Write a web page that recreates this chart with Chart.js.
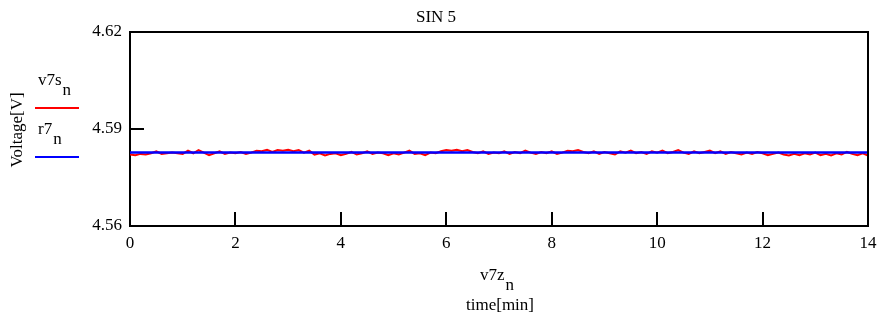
<!DOCTYPE html>
<html lang="en">
<head>
<meta charset="UTF-8">
<title>SIN 5</title>
<script src="https://cdn.jsdelivr.net/npm/chart.js"></script>
<style>
  html, body { margin: 0; padding: 0; background: #fff; }
  #wrap { width: 884px; height: 320px; position: relative; }
</style>
</head>
<body>
<div id="wrap"><canvas id="myChart" width="884" height="320"></canvas></div>
<script>
// temps de mesure (min)
const v7z = [
  0, 0.1, 0.2, 0.3, 0.4, 0.5, 0.6, 0.7, 0.8, 0.9,
  1, 1.1, 1.2, 1.3, 1.4, 1.5, 1.6, 1.7, 1.8, 1.9,
  2, 2.1, 2.2, 2.3, 2.4, 2.5, 2.6, 2.7, 2.8, 2.9,
  3, 3.1, 3.2, 3.3, 3.4, 3.5, 3.6, 3.7, 3.8, 3.9,
  4, 4.1, 4.2, 4.3, 4.4, 4.5, 4.6, 4.7, 4.8, 4.9,
  5, 5.1, 5.2, 5.3, 5.4, 5.5, 5.6, 5.7, 5.8, 5.9,
  6, 6.1, 6.2, 6.3, 6.4, 6.5, 6.6, 6.7, 6.8, 6.9,
  7, 7.1, 7.2, 7.3, 7.4, 7.5, 7.6, 7.7, 7.8, 7.9,
  8, 8.1, 8.2, 8.3, 8.4, 8.5, 8.6, 8.7, 8.8, 8.9,
  9, 9.1, 9.2, 9.3, 9.4, 9.5, 9.6, 9.7, 9.8, 9.9,
  10, 10.1, 10.2, 10.3, 10.4, 10.5, 10.6, 10.7, 10.8, 10.9,
  11, 11.1, 11.2, 11.3, 11.4, 11.5, 11.6, 11.7, 11.8, 11.9,
  12, 12.1, 12.2, 12.3, 12.4, 12.5, 12.6, 12.7, 12.8, 12.9,
  13, 13.1, 13.2, 13.3, 13.4, 13.5, 13.6, 13.7, 13.8, 13.9,
  14
];

// tension mesurée v7s (V)
const v7s = [
  4.5821, 4.5819, 4.5823, 4.5821, 4.5825, 4.5831, 4.5823, 4.5825, 4.5827, 4.5825,
  4.5823, 4.5833, 4.5825, 4.5835, 4.5827, 4.5819, 4.5825, 4.5831, 4.5823, 4.5827,
  4.5825, 4.5829, 4.5823, 4.5827, 4.5833, 4.5831, 4.5836, 4.5829, 4.5835, 4.5833,
  4.5836, 4.5831, 4.5835, 4.5827, 4.5833, 4.5821, 4.5825, 4.5818, 4.5823, 4.5825,
  4.5819, 4.5823, 4.5829, 4.5821, 4.5825, 4.5831, 4.5823, 4.5827, 4.5825, 4.5819,
  4.5825, 4.5821, 4.5827, 4.5833, 4.5823, 4.5825, 4.5819, 4.5827, 4.5825, 4.5831,
  4.5835, 4.5833, 4.5836, 4.5831, 4.5835, 4.5829, 4.5825, 4.5831, 4.5823, 4.5827,
  4.5825, 4.5831, 4.5823, 4.5829, 4.5825, 4.5833, 4.5827, 4.5823, 4.5829, 4.5825,
  4.5831, 4.5823, 4.5827, 4.5833, 4.5831, 4.5835, 4.5829, 4.5825, 4.5831, 4.5823,
  4.5829, 4.5825, 4.5821, 4.5831, 4.5827, 4.5833, 4.5825, 4.5829, 4.5823, 4.5831,
  4.5827, 4.5833, 4.5825, 4.5829, 4.5835, 4.5827, 4.5823, 4.5831, 4.5825, 4.5829,
  4.5833, 4.5825, 4.5831, 4.5823, 4.5829, 4.5825, 4.5821, 4.5827, 4.5823, 4.5829,
  4.5825, 4.5819, 4.5823, 4.5827, 4.5821, 4.5818, 4.5823, 4.5819, 4.5825, 4.5821,
  4.5827, 4.5819, 4.5823, 4.5818, 4.5825, 4.5821, 4.5829, 4.5823, 4.5819, 4.5825,
  4.5818
];

// référence r7 (V)
const r7Time = [0, 14];
const r7 = [4.5827, 4.5827];

// graduations
const xTicks = [0, 2, 4, 6, 8, 10, 12, 14];
const yTicks = [4.56, 4.59, 4.62];

const FONT = '"Liberation Serif", "Times New Roman", serif';

// texte avec indice (ex: v7s_n)
function subText(ctx, base, sub, x, y, align) {
  ctx.font = '17px ' + FONT;
  const wb = ctx.measureText(base).width;
  const ws = ctx.measureText(sub).width;
  let x0 = x;
  if (align === 'center') x0 = x - (wb + ws + 1) / 2;
  ctx.textAlign = 'left';
  ctx.textBaseline = 'middle';
  ctx.fillText(base, x0, y);
  ctx.fillText(sub, x0 + wb + 1, y + 10);
}

const decor = {
  id: 'decor',
  afterDraw(chart) {
    const ctx = chart.ctx;
    const a = chart.chartArea;
    const xs = chart.scales.x, ys = chart.scales.y;
    ctx.save();
    ctx.strokeStyle = '#000';
    ctx.lineWidth = 2;
    // cadre haut et droite
    ctx.beginPath();
    ctx.moveTo(a.left, a.top);
    ctx.lineTo(a.right, a.top);
    ctx.lineTo(a.right, a.bottom);
    ctx.stroke();
    // graduations intérieures
    ctx.beginPath();
    xTicks.forEach(t => {
      const px = Math.round(xs.getPixelForValue(t));
      ctx.moveTo(px, a.bottom);
      ctx.lineTo(px, a.bottom - 14);
    });
    yTicks.forEach(t => {
      const py = Math.round(ys.getPixelForValue(t));
      ctx.moveTo(a.left, py);
      ctx.lineTo(a.left + 14, py);
    });
    ctx.stroke();

    ctx.fillStyle = '#000';
    // titre
    ctx.font = '17px ' + FONT;
    ctx.textAlign = 'center';
    ctx.textBaseline = 'middle';
    ctx.fillText('SIN 5', 436, 18);

    // légende
    subText(ctx, 'v7s', 'n', 38, 81, 'left');
    subText(ctx, 'r7', 'n', 38, 130, 'left');
    ctx.lineWidth = 2;
    ctx.strokeStyle = '#ff0000';
    ctx.beginPath(); ctx.moveTo(35, 108); ctx.lineTo(79, 108); ctx.stroke();
    ctx.strokeStyle = '#0000ff';
    ctx.beginPath(); ctx.moveTo(35, 157); ctx.lineTo(79, 157); ctx.stroke();

    // titre axe y
    ctx.save();
    ctx.translate(18, 130);
    ctx.rotate(-Math.PI / 2);
    ctx.font = '17px ' + FONT;
    ctx.textAlign = 'center';
    ctx.textBaseline = 'middle';
    ctx.fillText('Voltage[V]', 0, 0);
    ctx.restore();

    // titre axe x
    subText(ctx, 'v7z', 'n', 497, 276, 'center');
    ctx.font = '17px ' + FONT;
    ctx.textAlign = 'center';
    ctx.fillText('time[min]', 500, 306);
    ctx.restore();
  }
};

const config = {
  type: 'line',
  data: {
    datasets: [{
      label: 'r7',
      data: r7Time.map((t, i) => ({ x: t, y: r7[i] })),
      borderColor: '#0000ff',
      borderWidth: 2.5,
      pointRadius: 0,
      order: 0
    }, {
      label: 'v7s',
      data: v7z.map((t, i) => ({ x: t, y: v7s[i] })),
      borderColor: '#ff0000',
      borderWidth: 2,
      pointRadius: 0,
      tension: 0,
      order: 1
    }]
  },
  options: {
    responsive: false,
    animation: false,
    layout: { padding: { left: 0, top: 32, right: 16, bottom: 0 } },
    plugins: { legend: { display: false }, tooltip: { enabled: false } },
    scales: {
      x: {
        type: 'linear',
        min: 0, max: 14,
        afterBuildTicks: s => { s.ticks = xTicks.map(v => ({ value: v })); },
        afterFit: s => { s.height = 94; },
        grid: { display: false, drawTicks: false },
        border: { display: true, color: '#000', width: 2 },
        ticks: { color: '#000', padding: 7, maxRotation: 0, font: { family: FONT, size: 17 } }
      },
      y: {
        type: 'linear',
        min: 4.56, max: 4.62,
        afterBuildTicks: s => { s.ticks = yTicks.map(v => ({ value: v })); },
        afterFit: s => { s.width = 130; },
        grid: { display: false, drawTicks: false },
        border: { display: true, color: '#000', width: 2 },
        ticks: { color: '#000', padding: 8, font: { family: FONT, size: 17 }, callback: v => v.toFixed(2) }
      }
    }
  },
  plugins: [decor]
};

new Chart(document.getElementById('myChart').getContext('2d'), config);
</script>
</body>
</html>
